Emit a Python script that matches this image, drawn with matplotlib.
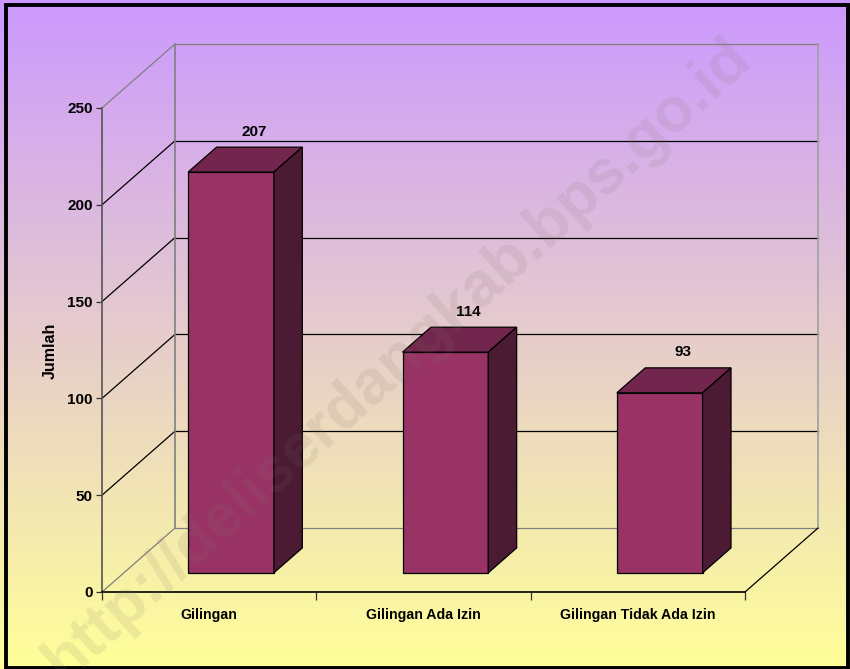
import numpy as np
import matplotlib.pyplot as plt
from matplotlib.patches import Polygon, Rectangle

# Data
kategori = ["Gilingan", "Gilingan Ada Izin", "Gilingan Tidak Ada Izin"]
jumlah = [207, 114, 93]
yticks = [0, 50, 100, 150, 200, 250]

plt.rcParams['font.family'] = ['Liberation Sans', 'DejaVu Sans']
plt.rcParams['font.weight'] = 'bold'

fig = plt.figure(figsize=(8.5, 6.69), dpi=100)

# Latar belakang gradasi ungu -> kuning
bg = fig.add_axes([0, 0, 1, 1])
ungu = np.array([204, 153, 255]) / 255
kuning = np.array([255, 255, 153]) / 255
t = np.linspace(0, 1, 256)[:, None]
grad = ungu * (1 - t) + kuning * t
bg.imshow(grad[:, None, :], aspect='auto', extent=[0, 1, 0, 1])
bg.set_xlim(0, 1)
bg.set_ylim(0, 1)
bg.set_axis_off()
bg.add_patch(Rectangle((5.5 / 850, 1.5 / 669), 842.5 / 850, 662.5 / 669, fill=False,
                       edgecolor='black', lw=2.8, transform=fig.transFigure))

# Sumbu utama (bidang depan)
ax = fig.add_axes([0.12, 0.1151, 0.7565, 0.7235])
ax.patch.set_alpha(0)
n = len(kategori)
ax.set_xlim(0, n)
ax.set_ylim(0, 250)

# offset kedalaman (efek 3D)
DX, DY = 0.34, 33.0
d0, d1 = 0.3, 0.69
lebar = 0.4

# dinding belakang dan dinding kiri
for v in yticks:
    warna = 'black' if 0 < v < 250 else '#808080'
    ax.plot([DX, n + DX], [v + DY, v + DY], color=warna, lw=0.9, clip_on=False, zorder=1)
    ax.plot([0, DX], [v, v + DY], color=warna, lw=0.9, clip_on=False, zorder=1)
ax.plot([DX, DX], [DY, 250 + DY], color='#808080', lw=1.2, clip_on=False, zorder=1)
ax.plot([n + DX, n + DX], [DY, 250 + DY], color='#a0a0a0', lw=1.2, clip_on=False, zorder=1)
ax.plot([n, n + DX], [0, DY], color='black', lw=0.9, clip_on=False, zorder=1)

# batang
depan = '#993366'
atas = '#73264d'
samping = '#4b1a33'
x = np.arange(n) + 0.5
ax.bar(x + d0 * DX, jumlah, width=lebar, bottom=d0 * DY, color=depan,
       edgecolor='black', lw=0.9, zorder=5, clip_on=False)
ddx, ddy = (d1 - d0) * DX, (d1 - d0) * DY
for xi, v in zip(x, jumlah):
    xl = xi + d0 * DX - lebar / 2
    xr = xl + lebar
    b0 = d0 * DY
    t0 = b0 + v
    ax.add_patch(Polygon([(xl, t0), (xr, t0), (xr + ddx, t0 + ddy), (xl + ddx, t0 + ddy)],
                         closed=True, facecolor=atas, edgecolor='black', lw=0.9,
                         zorder=5, clip_on=False))
    ax.add_patch(Polygon([(xr, b0), (xr, t0), (xr + ddx, t0 + ddy), (xr + ddx, b0 + ddy)],
                         closed=True, facecolor=samping, edgecolor='black', lw=0.9,
                         zorder=5, clip_on=False))
    ax.text(xi + 0.21, v + d1 * DY + 8, str(v), ha='center', va='center',
            fontsize=11, fontweight='bold', zorder=6)

# sumbu dan label
for s in ['top', 'right']:
    ax.spines[s].set_visible(False)
ax.spines['left'].set_color('#555555')
ax.spines['left'].set_linewidth(1.2)
ax.spines['bottom'].set_color('black')
ax.spines['bottom'].set_linewidth(1.2)

ax.set_yticks(yticks)
ax.tick_params(axis='y', length=4.3, width=0.9, pad=2.2, labelsize=11, color='#333333')
ax.set_xticks(np.arange(n + 1))
ax.set_xticklabels([])
ax.set_xticks(x, minor=True)
ax.set_xticklabels(kategori, minor=True, fontsize=10.2)
ax.tick_params(axis='x', which='major', length=5.5, width=0.9, color='#333333')
ax.tick_params(axis='x', which='minor', length=0, pad=11.5)

ax.set_ylabel('Jumlah', fontsize=11.5, fontweight='bold', va='center')
ax.yaxis.set_label_coords(-0.081, 0.498)

# watermark
fig.text(0.468, 0.462, 'http://deliserdangkab.bps.go.id', rotation=42, ha='center', va='center',
         fontsize=45, fontweight='bold', color=(0.5, 0.45, 0.4), alpha=0.13,
         rotation_mode='anchor')

plt.savefig('out.png', dpi=100)
